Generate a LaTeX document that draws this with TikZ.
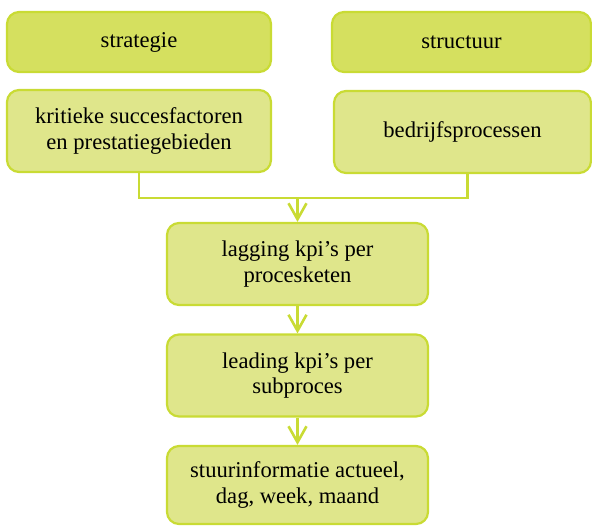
\documentclass[tikz,border=0pt]{standalone}
\usepackage{fontspec}
\setmainfont{Liberation Serif}
\usepackage{tikz}
\usetikzlibrary{positioning,arrows.meta,calc}
\usepackage{xcolor}
\definecolor{limeline}{HTML}{C9DB34}
\definecolor{limedark}{HTML}{D5E05F}
\definecolor{limelight}{HTML}{DFE68B}

\begin{document}
\begin{tikzpicture}[x=0.5pt,y=-0.5pt,
  box/.style={draw=limeline, line width=1.1pt, rounded corners=6pt,
    align=center, inner sep=0pt, font=\fontsize{11.3}{12.8}\selectfont,
    minimum height=41pt},
  topbox/.style={box, fill=limedark, minimum height=30pt},
  flow/.style={draw=limeline, line width=1.3pt},
  arr/.style={flow, -{Straight Barb[length=8pt,width=9pt,line width=1.3pt]}}]
\useasboundingbox (0,0) rectangle (592,525);
% top row: the two starting points
\node[topbox, minimum width=132pt]   (strat) at (139,42)   {strategie};
\node[topbox, minimum width=129.5pt] (struc) at (461.5,42) {structuur};
% second row
\node[box, fill=limelight, minimum width=132pt] (ksf)  at (139,131)
  {kritieke succesfactoren\\en prestatiegebieden};
\node[box, fill=limelight, minimum width=128.5pt] (bedr) at (462.5,132)
  {bedrijfsprocessen};
% the chain in the middle
\node[box, fill=limelight, minimum width=130.5pt] (lag)  at (297.5,264)
  {lagging kpi's per\\procesketen};
\node[box, fill=limelight, minimum width=130.5pt] (lead) at (297.5,375.5)
  {leading kpi's per\\subproces};
\node[box, fill=limelight, minimum width=130.5pt, minimum height=39pt] (stuur) at (297.5,485)
  {stuurinformatie actueel,\\dag, week, maand};
% joining line under the second row
\coordinate (merge) at (297.5,198);
\draw[flow] (ksf.south) |- (merge) -| ([xshift=2.5pt]bedr.south);
\draw[arr] (merge) -- (lag.north);
\draw[arr] (lag) -- (lead);
\draw[arr] (lead) -- (stuur);
\end{tikzpicture}
\end{document}
